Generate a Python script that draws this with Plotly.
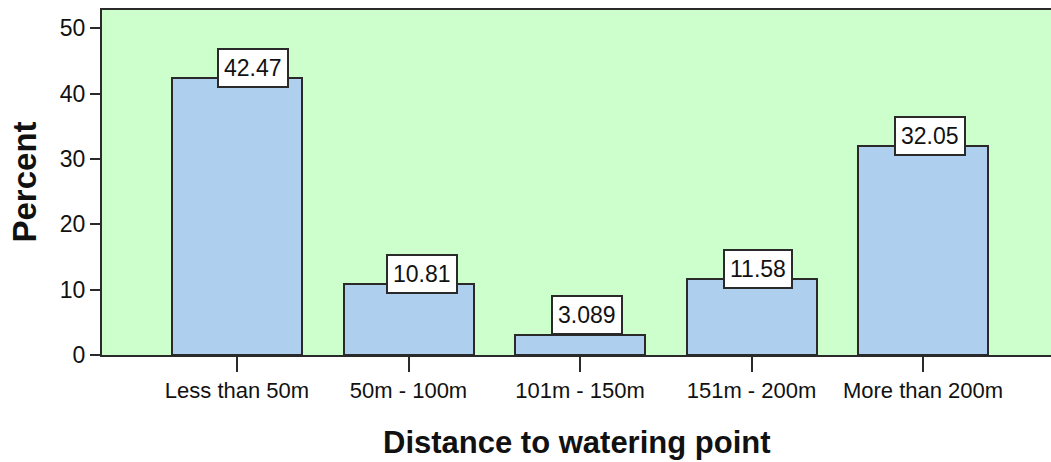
import plotly.graph_objects as go

# Distance to watering point, percent of respondents
categories = ["Less than 50m", "50m - 100m", "101m - 150m", "151m - 200m", "More than 200m"]
percent = [42.47, 10.81, 3.089, 11.58, 32.05]
value_labels = ["42.47", "10.81", "3.089", "11.58", "32.05"]
y_ticks = [0, 10, 20, 30, 40, 50]

# horizontal nudge (px) of each value box relative to its bar centre
label_dx = [16, 13, 7, 6, 7]

W, H = 1051, 462
ML, MR, MT, MB = 102, 0, 10, 107
line_col = "#2a2a2a"
font = "Liberation Sans, Arial, sans-serif"

fig = go.Figure(
    go.Bar(
        x=list(range(len(categories))),
        y=percent,
        marker=dict(color="#aecfee", line=dict(color=line_col, width=2)),
        width=0.758,
        hoverinfo="skip",
    )
)

# value labels in white boxes sitting on the bar tops
for i, (v, lab, dx) in enumerate(zip(percent, value_labels, label_dx)):
    fig.add_annotation(
        x=i, y=v, xref="x", yref="y",
        text=lab, showarrow=False,
        yanchor="bottom",
        xshift=dx,
        yshift=-10 if v > 5 else 0,
        font=dict(family=font, size=23, color="#111111"),
        bgcolor="white", bordercolor=line_col, borderwidth=2, borderpad=5,
    )

# axis titles
fig.add_annotation(
    x=0.5, y=0, xref="paper", yref="paper",
    text="<b>Distance to watering point</b>", showarrow=False,
    xanchor="center", yanchor="middle", yshift=-87,
    font=dict(family=font, size=31, color="#111111"),
)
fig.add_annotation(
    x=0, y=0.5, xref="paper", yref="paper",
    text="<b>Percent</b>", showarrow=False, textangle=-90,
    xanchor="center", yanchor="middle", xshift=-78,
    font=dict(family=font, size=33, color="#111111"),
)

fig.update_layout(
    width=W, height=H,
    margin=dict(l=ML, r=MR, t=MT, b=MB),
    paper_bgcolor="white",
    plot_bgcolor="#ccffcc",
    showlegend=False,
    bargap=0,
)
fig.update_xaxes(
    range=[-0.787, 4.746],
    tickmode="array", tickvals=list(range(len(categories))), ticktext=categories,
    ticks="outside", ticklen=15, tickwidth=2, tickcolor=line_col,
    showline=True, linecolor=line_col, linewidth=2, mirror=True,
    showgrid=False, zeroline=False, ticklabelstandoff=0,
    tickfont=dict(family=font, size=22, color="#111111"),
)
fig.update_yaxes(
    range=[0, 52.8],
    tickmode="array", tickvals=y_ticks,
    ticks="outside", ticklen=10, tickwidth=2, tickcolor=line_col,
    showline=True, linecolor=line_col, linewidth=2,
    showgrid=False, zeroline=False,
    tickfont=dict(family=font, size=23, color="#111111"),
)

fig.write_html("out.html")
